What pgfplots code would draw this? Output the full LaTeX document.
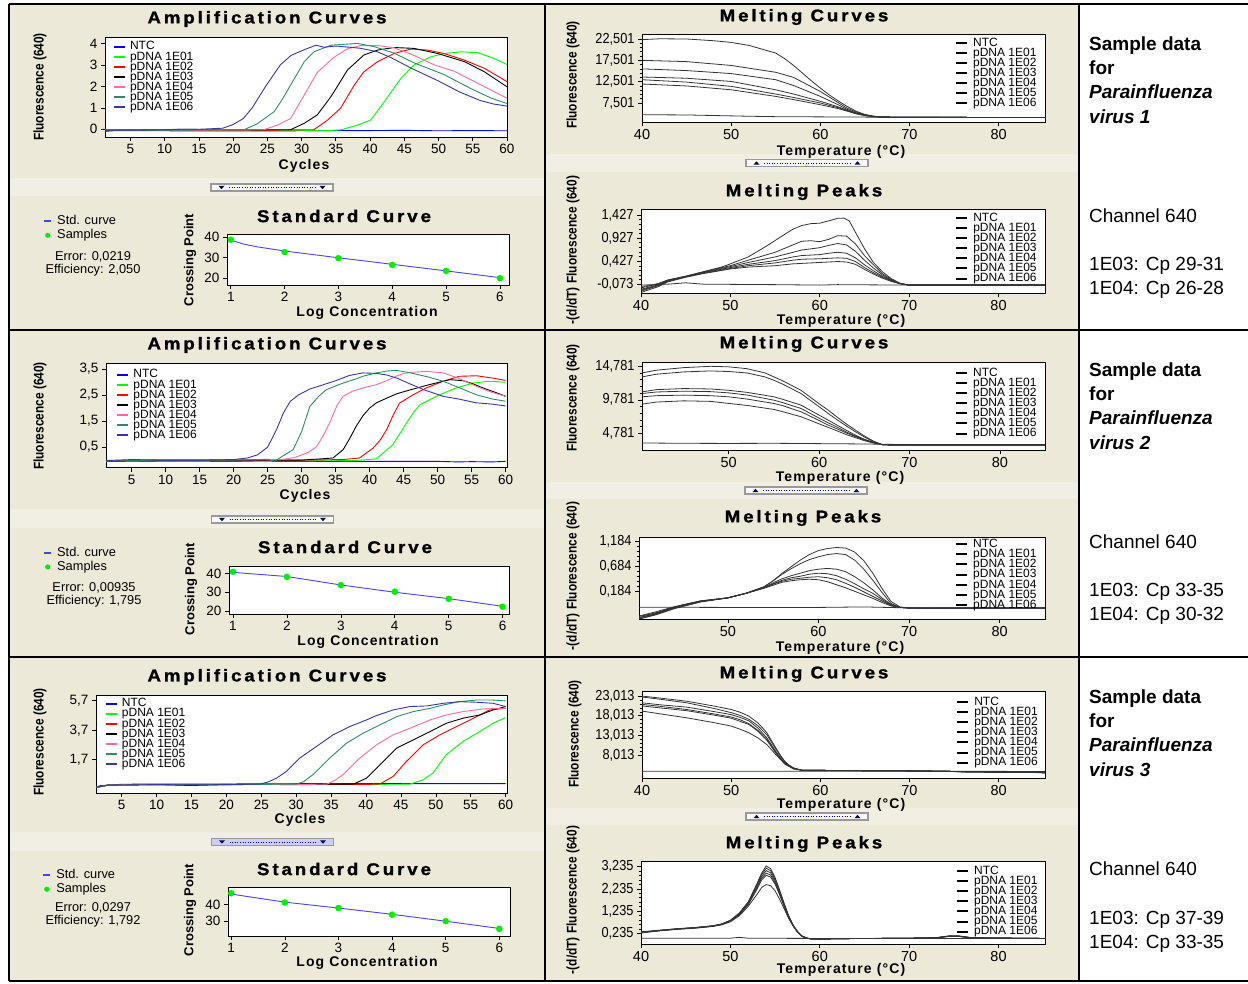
\documentclass[border=0pt]{standalone}
\usepackage{pgfplots}
\pgfplotsset{compat=1.18}
\usepackage{fontspec}
\setmainfont{Liberation Sans}
\newfontfamily\ttlfam[LetterSpace=17,FakeStretch=1.1,FakeBold=1.2]{Liberation Sans}
\newfontfamily\lblfam[LetterSpace=8]{Liberation Sans}
\newfontfamily\narfam[FakeStretch=0.85]{Liberation Sans}
\newfontfamily\ytkfam[FakeStretch=0.88]{Liberation Sans}
\newcommand\ttlfont{\ttlfam\bfseries\fontsize{17}{20}\selectfont}
\newcommand\lblfont{\lblfam\bfseries\fontsize{14}{16}\selectfont}
\newcommand\ylblfont{\narfam\bfseries\fontsize{14}{16}\selectfont}
\newcommand\cpfont{\bfseries\fontsize{13}{15}\selectfont}
\newcommand\tkfont{\fontsize{13.5}{15}\selectfont}
\newcommand\mtkfont{\fontsize{14.5}{16}\selectfont}
\newcommand\ytkfont{\ytkfam\fontsize{14.5}{16}\selectfont}
\newcommand\legfont{\fontsize{12}{12}\selectfont}
\newcommand\smfont{\fontsize{12.8}{14}\selectfont}
\newcommand\rfont{\fontsize{19}{22}\selectfont}
\definecolor{beige}{HTML}{ECE9D8}
\definecolor{band}{HTML}{F1EFE3}
\definecolor{cNTC}{HTML}{0000FF}
\definecolor{c01}{HTML}{00FF00}
\definecolor{c02}{HTML}{FF0000}
\definecolor{c03}{HTML}{000000}
\definecolor{c04}{HTML}{FF6C9C}
\definecolor{c05}{HTML}{2E8B6E}
\definecolor{c06}{HTML}{38389A}
\definecolor{stdblue}{HTML}{4444FF}
\definecolor{samp}{HTML}{00EE00}
\pgfplotsset{
 panel/.style={scale only axis, anchor=north west, axis background/.style={fill=white},
   axis line style={line width=0.8pt}, tick align=outside, tick pos=left,
   major tick length=4pt, minor tick length=2.5pt, every tick/.style={black,line width=0.6pt},
   tick label style={font=\tkfont}, /pgf/number format/assume math mode=true},
 amp/.style={panel, xtick={5,10,...,60}, every axis plot/.append style={line width=0.9pt},
   legend cell align=left,
   legend style={draw=none, fill=none, anchor=north west, font=\legfont,
     nodes={inner sep=0pt, text height=8.4pt, text depth=1.7pt}, row sep=0pt, column sep=4pt},
   legend image code/.code={\draw[##1,line width=2pt] (0pt,0pt) -- (11pt,0pt);}},
 melt/.style={panel, xtick={40,50,...,80}, xticklabel style={font=\mtkfont},
   yticklabel style={font=\ytkfont}, minor y tick num=4,
   legend cell align=left,
   legend style={draw=none, fill=none, anchor=north west, font=\legfont,
     nodes={inner sep=0pt, text height=8.4pt, text depth=1.7pt}, row sep=0pt, column sep=5pt},
   legend image code/.code={\draw[black,line width=2pt] (0pt,0pt) -- (11pt,0pt);}},
 mc/.style={black!80, line width=0.8pt},
 std/.style={panel, xtick={1,2,3,4,5,6}, legend cell align=left,
   legend style={draw=none, fill=none, anchor=north west, font=\smfont,
     nodes={inner sep=0pt, text height=9.5pt, text depth=2.5pt}, row sep=2pt, column sep=5pt}},
 stdline/.style={stdblue, line width=0.9pt,
   legend image code/.code={\draw[stdblue,line width=2pt] (0pt,0pt) -- (7pt,0pt);}},
 stdpts/.style={only marks, mark=*, mark size=3pt, color=samp,
   legend image code/.code={\fill[samp] (3.5pt,0pt) circle (2.3pt); \path (0pt,0pt) (7pt,0pt);}},
}
\newcommand{\widget}[4]{%
 \begin{scope}[shift={(#1pt,-#2pt)}]
 \fill[#3] (-61pt,-3.5pt) rectangle (61pt,3.5pt);
 \draw[gray!80, line width=1.2pt] (-61pt,-3.5pt) rectangle (61pt,3.5pt);
 \draw[blue!70!black, dotted, line width=0.6pt] (-43pt,0pt) -- (43pt,0pt);
 \fill[blue!35!black] (-53.5pt,#4*1.6pt) -- (-47.5pt,#4*1.6pt) -- (-50.5pt,-#4*1.6pt) -- cycle;
 \fill[blue!35!black] (47.5pt,#4*1.6pt) -- (53.5pt,#4*1.6pt) -- (50.5pt,-#4*1.6pt) -- cycle;
 \end{scope}}
\begin{document}
\begin{tikzpicture}
\path[use as bounding box] (0pt,0pt) rectangle (1248pt,-983pt);
\fill[white] (0pt,0pt) rectangle (1248pt,-983pt);
\fill[beige] (9pt,-4pt) rectangle (1079pt,-981pt);
\fill[band] (9pt,-178pt) rectangle (545pt,-196pt);
\fill[band] (9pt,-509pt) rectangle (545pt,-528pt);
\fill[band] (9pt,-832pt) rectangle (545pt,-851pt);
\fill[band] (545pt,-154pt) rectangle (1079pt,-172pt);
\fill[band] (545pt,-482pt) rectangle (1079pt,-499pt);
\fill[band] (545pt,-808pt) rectangle (1079pt,-825pt);

% ================= ROW 1 =================
\begin{axis}[amp, at={(105pt,-37pt)}, width=402pt, height=100pt,
  xmin=1.3, xmax=60, ymin=-0.36, ymax=4.3, ytick={0,1,2,3,4},
  legend style={at={(0.012,0.977)}}]
\addplot[cNTC] coordinates {(1,-0.1)(3,-0.06)(10,-0.07)(20,-0.08)(30,-0.07)(40,-0.06)(45,-0.05)(50,-0.07)(55,-0.06)(60,-0.07)};
\addlegendentry{NTC}
\addplot[c01] coordinates {(1,-0.04)(10,-0.03)(20,-0.04)(30,-0.05)(33,-0.07)(35.7,-0.03)(38.2,0.2)(40.1,0.43)(42.1,1.29)(44.5,2.37)(46.4,2.99)(48.9,3.38)(50.8,3.53)(53.3,3.61)(55.7,3.57)(58.1,3.3)(60,3.02)};
\addlegendentry{pDNA 1E01}
\addplot[c02] coordinates {(1,-0.03)(10,-0.02)(20,-0.03)(25,-0.04)(31.8,-0.02)(33.8,0.43)(35.7,0.98)(37.7,2.06)(39.1,2.68)(41.1,3.15)(43.5,3.53)(46,3.74)(48.4,3.69)(50.8,3.53)(53.8,3.22)(56.7,2.84)(60,2.22)};
\addlegendentry{pDNA 1E02}
\addplot[c03] coordinates {(1,-0.03)(10,-0.02)(13,0.0)(20,-0.03)(28.4,-0.02)(30.4,0.28)(32.3,0.67)(34.3,1.52)(36.7,2.76)(39.1,3.46)(41.1,3.69)(43.5,3.81)(46.4,3.77)(49.9,3.53)(53.8,3.15)(56.7,2.68)(60,1.98)};
\addlegendentry{pDNA 1E03}
\addplot[c04] coordinates {(1,-0.03)(10,-0.02)(20,-0.03)(24.5,-0.02)(26.5,0.2)(28.4,0.5)(30.4,1.6)(32.3,2.65)(34.7,3.35)(36.7,3.75)(38.6,3.9)(41.1,3.9)(43.5,3.8)(46,3.5)(49.4,3.0)(52.3,2.7)(55.7,2.15)(58.1,1.75)(60,1.45)};
\addlegendentry{pDNA 1E04}
\addplot[c05] coordinates {(1,-0.03)(15,-0.02)(21.6,-0.02)(23.5,0.25)(26,0.82)(27.2,1.4)(28.4,2.06)(30.4,3.15)(31.8,3.61)(34.3,3.92)(38.2,4.0)(40.6,3.85)(43.5,3.55)(46.4,3.1)(50.8,2.55)(54.7,1.9)(57.7,1.45)(60,1.2)};
\addlegendentry{pDNA 1E05}
\addplot[c06] coordinates {(1,-0.05)(10,-0.02)(12,0.0)(15,0.0)(18.5,0.05)(20,0.22)(21.5,0.5)(22.8,1.0)(24.75,2.0)(26.9,3.0)(28.5,3.45)(30.5,3.72)(32.1,3.92)(33.3,3.82)(35,3.88)(38.5,3.78)(41,3.62)(43,3.35)(46,2.85)(50,2.25)(53,1.75)(56,1.35)(58,1.18)(60,1.08)};
\addlegendentry{pDNA 1E06}
\end{axis}

\begin{axis}[std, at={(227pt,-234pt)}, width=282pt, height=51pt,
  xmin=0.93, xmax=6.17, ymin=16.7, ymax=41.6, ytick={20,30,40},
  legend style={at={(-0.663,1.41)}}]
\addplot[stdline] coordinates {(1,38.6)(1.25,36.6)(1.5,35.3)(2,33.3)(3,30.0)(4,26.8)(5,23.6)(6,20.3)};
\addlegendentry{Std. curve}
\addplot[stdpts] coordinates {(1,38.8)(2,32.8)(3,29.8)(4,26.5)(5,23.6)(6,20.0)};
\addlegendentry{Samples}
\end{axis}

\begin{axis}[melt, at={(642pt,-34pt)}, width=403pt, height=88pt,
  xmin=40, xmax=85.2, ymin=3.05, ymax=23.67,
  ytick={7.501,12.501,17.501,22.501}, yticklabels={{7,501},{12,501},{17,501},{22,501}},
  legend style={at={(0.769,0.984)}}]
\addplot[mc] coordinates {(40,4.76)(45,4.7)(52,4.4)(55,4.3)(60,4.25)(65,4.2)(70,4.15)(85.2,4.1)};
\addlegendentry{NTC}
\addplot[mc] coordinates {(40,22.35)(42,22.55)(45,22.5)(48,22.1)(50,21.7)(52,21.0)(54,19.8)(55,19.2)(56,17.9)(57,16.3)(58,14.5)(59,12.7)(60,11.0)(61,9.4)(62,8.0)(63,6.7)(64,5.6)(65,4.8)(66,4.4)(67,4.2)(70,4.15)(75,4.12)(80,4.1)(85.2,4.1)};
\addlegendentry{pDNA 1E01}
\addplot[mc] coordinates {(40,17.5)(45,17.2)(50,16.3)(55,14.7)(57,13.5)(60,10.2)(62,7.6)(63,6.3)(64,5.4)(65,4.76)(66,4.4)(67,4.2)(70,4.15)(85.2,4.1)};
\addlegendentry{pDNA 1E02}
\addplot[mc] coordinates {(40,15.5)(45,15.1)(50,14.4)(55,12.96)(57,11.6)(60,9.05)(62,7.1)(63,6.0)(64,5.2)(65,4.7)(66,4.35)(67,4.2)(70,4.15)(85.2,4.1)};
\addlegendentry{pDNA 1E03}
\addplot[mc] coordinates {(40,13.6)(45,13.3)(50,12.56)(55,10.6)(57,9.6)(60,7.9)(62,6.6)(63,5.8)(64,5.1)(65,4.6)(66,4.3)(67,4.2)(70,4.15)(85.2,4.1)};
\addlegendentry{pDNA 1E04}
\addplot[mc] coordinates {(40,12.96)(45,12.4)(50,11.4)(55,9.6)(57,8.8)(60,7.5)(62,6.4)(63,5.7)(64,5.0)(65,4.6)(66,4.3)(67,4.2)(70,4.15)(85.2,4.1)};
\addlegendentry{pDNA 1E05}
\addplot[mc] coordinates {(40,11.95)(45,11.5)(50,10.6)(55,9.05)(57,8.3)(60,7.1)(62,6.2)(63,5.6)(64,5.0)(65,4.55)(66,4.3)(67,4.2)(70,4.15)(85.2,4.1)};
\addlegendentry{pDNA 1E06}
\end{axis}

\begin{axis}[melt, at={(641pt,-209pt)}, width=404pt, height=84pt,
  xmin=40, xmax=85.2, ymin=-0.261, ymax=1.557,
  ytick={-0.073,0.427,0.927,1.427}, yticklabels={{-0,073},{0,427},{0,927},{1,427}},
  legend style={at={(0.77,0.98)}}]
\addplot[mc] coordinates {(40,-0.09)(43,-0.07)(45,-0.04)(47,-0.07)(55,-0.08)(60,-0.09)(62,-0.08)(70,-0.09)(85.2,-0.09)};
\addlegendentry{NTC}
\addplot[mc] coordinates {(40,-0.12)(41,-0.1)(42,-0.05)(43,0.02)(45,0.1)(47,0.2)(49,0.3)(50,0.37)(52,0.52)(54,0.75)(56,1.0)(57,1.12)(58,1.2)(59,1.24)(60,1.25)(61,1.3)(62,1.355)(62.7,1.36)(63.3,1.3)(64,1.05)(65,0.7)(66,0.4)(67,0.2)(68,0.05)(69,-0.05)(70,-0.09)(75,-0.09)(80,-0.08)(82,-0.09)(85.2,-0.09)};
\addlegendentry{pDNA 1E01}
\addplot[mc] coordinates {(40,-0.15)(42,-0.06)(43,0.02)(45,0.1)(47,0.2)(50,0.33)(52,0.45)(55,0.62)(57,0.78)(58,0.86)(59,0.87)(60,0.85)(61,0.9)(62,0.98)(63,0.97)(64,0.8)(65,0.55)(66,0.35)(67,0.16)(68,0.03)(69,-0.06)(70,-0.09)(85.2,-0.09)};
\addlegendentry{pDNA 1E02}
\addplot[mc] coordinates {(40,-0.18)(42,-0.08)(43,0.01)(45,0.1)(47,0.19)(50,0.31)(52,0.4)(55,0.52)(57,0.62)(58,0.67)(60,0.72)(61,0.77)(62,0.81)(63,0.78)(64,0.64)(65,0.45)(66,0.28)(67,0.13)(68,0.02)(69,-0.06)(70,-0.09)(85.2,-0.09)};
\addlegendentry{pDNA 1E03}
\addplot[mc] coordinates {(40,-0.2)(42,-0.09)(43,0.0)(45,0.09)(47,0.18)(50,0.29)(52,0.36)(55,0.44)(57,0.52)(58,0.55)(60,0.57)(61,0.6)(62,0.62)(63,0.6)(64,0.5)(65,0.35)(66,0.22)(67,0.1)(68,0.01)(69,-0.06)(70,-0.09)(85.2,-0.09)};
\addlegendentry{pDNA 1E04}
\addplot[mc] coordinates {(40,-0.22)(42,-0.1)(43,-0.01)(45,0.09)(47,0.17)(50,0.27)(52,0.33)(55,0.39)(57,0.45)(58,0.47)(60,0.48)(61,0.49)(62,0.5)(63,0.49)(64,0.42)(65,0.29)(66,0.18)(67,0.08)(68,0.0)(69,-0.06)(70,-0.09)(85.2,-0.09)};
\addlegendentry{pDNA 1E05}
\addplot[mc] coordinates {(40,-0.25)(42,-0.12)(43,-0.02)(45,0.08)(47,0.16)(50,0.26)(52,0.3)(55,0.33)(57,0.37)(58,0.38)(60,0.4)(61,0.41)(62,0.42)(63,0.41)(64,0.36)(65,0.25)(66,0.15)(67,0.06)(68,-0.01)(69,-0.06)(70,-0.09)(85.2,-0.09)};
\addlegendentry{pDNA 1E06}
\end{axis}

% ================= ROW 2 =================
\begin{axis}[amp, at={(106pt,-363pt)}, width=401pt, height=104.5pt,
  xmin=1.22, xmax=60.2, ymin=-0.285, ymax=3.73,
  ytick={0.5,1.5,2.5,3.5}, yticklabels={{0,5},{1,5},{2,5},{3,5}},
  legend style={at={(0.018,0.958)}}]
\addplot[cNTC] coordinates {(1,-0.05)(10,-0.04)(20,-0.05)(30,-0.05)(40,-0.05)(50,-0.05)(53,-0.07)(55,-0.06)(58,-0.07)(60,-0.05)};
\addlegendentry{NTC}
\addplot[c01] coordinates {(1,-0.03)(10,-0.03)(20,-0.03)(25,-0.06)(26,-0.03)(30,-0.03)(38,-0.02)(41,0.05)(43.4,0.59)(44.4,1.0)(45.4,1.42)(46.5,1.85)(47.4,2.13)(50.3,2.51)(52.7,2.77)(55.2,2.96)(57.6,3.03)(60,2.99)};
\addlegendentry{pDNA 1E01}
\addplot[c02] coordinates {(1,-0.02)(10,0.0)(20,0.0)(30,0.0)(36,0.02)(38.5,0.08)(40.5,0.46)(41.5,0.75)(42.5,1.17)(43.5,1.75)(44.4,2.19)(46.4,2.51)(48.3,2.77)(50.8,3.03)(53.2,3.22)(55.7,3.24)(58.1,3.15)(60,3.06)};
\addlegendentry{pDNA 1E02}
\addplot[c03] coordinates {(1,-0.02)(8,-0.03)(10,0.0)(20,0.0)(30,0.0)(33,0.05)(34.6,0.08)(36.1,0.4)(37,0.8)(38,1.29)(39,1.7)(40,2.0)(41,2.2)(42.5,2.38)(44,2.55)(46,2.7)(48.8,2.9)(51.8,3.09)(53.7,3.05)(55,2.95)(56.7,2.77)(58.5,2.6)(60,2.45)};
\addlegendentry{pDNA 1E03}
\addplot[c04] coordinates {(1,-0.02)(10,0.02)(20,0.02)(27,0.02)(29,0.1)(31,0.3)(32.2,0.52)(33.2,0.95)(34.1,1.42)(35.2,2.1)(36.1,2.45)(37.5,2.65)(39,2.77)(41,2.9)(42.5,3.05)(43.9,3.22)(45,3.33)(46,3.37)(48.3,3.41)(50.8,3.35)(53,3.15)(55.7,2.83)(58,2.6)(60,2.45)};
\addlegendentry{pDNA 1E04}
\addplot[c05] coordinates {(1,-0.03)(10,0.0)(20,0.0)(25,0.03)(26,-0.05)(27,0.12)(28.75,0.4)(30,1.1)(31.2,2.06)(32.5,2.45)(33.6,2.7)(35,2.85)(36.1,2.96)(38,3.12)(39,3.22)(41,3.35)(42.5,3.42)(43.9,3.45)(46,3.35)(48.5,3.2)(50.8,3.03)(53,2.8)(55.7,2.51)(58,2.35)(60,2.26)};
\addlegendentry{pDNA 1E05}
\addplot[c06] coordinates {(1,-0.02)(5,0.02)(10,0.0)(15,0.0)(20,0.02)(22,0.08)(23.5,0.2)(25,0.5)(26.3,1.17)(27.3,1.8)(28.3,2.25)(29.5,2.5)(31.2,2.73)(33,2.88)(35,3.05)(37,3.25)(39,3.35)(41,3.33)(42.5,3.27)(44,3.15)(46,2.92)(48,2.7)(50.8,2.45)(53,2.35)(55.7,2.2)(58,2.15)(60,2.08)};
\addlegendentry{pDNA 1E06}
\end{axis}

\begin{axis}[std, at={(229pt,-566pt)}, width=280pt, height=48pt,
  xmin=0.926, xmax=6.12, ymin=18.4, ymax=44, ytick={20,30,40},
  legend style={at={(-0.675,1.444)}}]
\addplot[stdline] coordinates {(1,40.6)(2,38.4)(3,33.9)(4,30.0)(5,26.6)(6,22.5)};
\addlegendentry{Std. curve}
\addplot[stdpts] coordinates {(1,40.9)(2,38.2)(3,33.8)(4,30.3)(5,26.5)(6,22.3)};
\addlegendentry{Samples}
\end{axis}

\begin{axis}[melt, at={(642pt,-362pt)}, width=403pt, height=88pt,
  xmin=40.4, xmax=85, ymin=2.3, ymax=15.42,
  ytick={4.781,9.781,14.781}, yticklabels={{4,781},{9,781},{14,781}},
  legend style={at={(0.769,0.958)}}]
\addplot[mc] coordinates {(40.4,3.35)(45,3.3)(50,3.28)(55,3.3)(60,3.25)(65,3.2)(70,3.1)(85,3.1)};
\addlegendentry{NTC}
\addplot[mc] coordinates {(40.4,13.79)(42,14.2)(45,14.58)(48,14.78)(50,14.7)(52,14.43)(54,13.8)(55,13.2)(56,12.6)(58,11.2)(60,9.2)(61,8.25)(62,7.2)(63,6.2)(64,5.28)(65,4.4)(66,3.64)(67,3.1)(68,3.05)(75,3.05)(85,3.05)};
\addlegendentry{pDNA 1E01}
\addplot[mc] coordinates {(40.4,13.2)(42,13.6)(45,13.94)(48,14.09)(50,14.0)(52,13.79)(54,13.2)(55,12.7)(56,12.1)(58,10.72)(60,8.75)(61,7.75)(62,6.8)(63,5.9)(64,5.03)(65,4.25)(66,3.54)(67,3.1)(68,3.05)(85,3.05)};
\addlegendentry{pDNA 1E02}
\addplot[mc] coordinates {(40.4,10.97)(42,11.3)(45,11.46)(48,11.4)(50,11.2)(52,10.9)(55,10.23)(56,9.85)(58,8.99)(60,7.5)(61,6.76)(62,6.0)(63,5.25)(64,4.53)(65,3.9)(66,3.45)(67,3.1)(68,3.05)(85,3.05)};
\addlegendentry{pDNA 1E03}
\addplot[mc] coordinates {(40.4,10.72)(42,10.95)(45,11.07)(48,11.0)(50,10.82)(52,10.5)(55,9.73)(56,9.35)(58,8.49)(60,7.05)(61,6.36)(62,5.7)(63,5.0)(64,4.4)(65,3.85)(66,3.42)(67,3.1)(68,3.05)(85,3.05)};
\addlegendentry{pDNA 1E04}
\addplot[mc] coordinates {(40.4,10.23)(42,10.4)(45,10.48)(48,10.4)(50,10.23)(52,9.9)(55,9.24)(56,8.9)(58,8.0)(60,6.7)(61,6.02)(62,5.45)(63,4.85)(64,4.3)(65,3.8)(66,3.4)(67,3.1)(68,3.05)(85,3.05)};
\addlegendentry{pDNA 1E05}
\addplot[mc] coordinates {(40.4,9.14)(42,9.45)(45,9.63)(48,9.55)(50,9.24)(52,8.95)(55,8.35)(56,8.0)(58,7.26)(60,6.2)(61,5.67)(62,5.15)(63,4.6)(64,4.14)(65,3.7)(66,3.35)(67,3.1)(68,3.05)(85,3.05)};
\addlegendentry{pDNA 1E06}
\end{axis}

\begin{axis}[melt, at={(639pt,-537pt)}, width=406pt, height=82pt,
  xmin=40.2, xmax=85, ymin=-0.36, ymax=1.269,
  ytick={0.184,0.684,1.184}, yticklabels={{0,184},{0,684},{1,184}},
  legend style={at={(0.771,1.0)}}]
\addplot[mc] coordinates {(40.2,-0.125)(50,-0.13)(60,-0.13)(65,-0.12)(70,-0.14)(85,-0.14)};
\addlegendentry{NTC}
\addplot[mc] coordinates {(40.2,-0.31)(42,-0.24)(44,-0.13)(45,-0.08)(47,0.0)(50,0.06)(52,0.15)(54,0.28)(55,0.4)(56,0.55)(57,0.68)(58,0.81)(59,0.92)(60,1.0)(61,1.04)(62,1.06)(63,1.05)(64,0.97)(65,0.8)(66,0.55)(67,0.25)(68,-0.01)(69,-0.12)(70,-0.14)(72,-0.15)(85,-0.14)};
\addlegendentry{pDNA 1E01}
\addplot[mc] coordinates {(40.2,-0.3)(42,-0.22)(44,-0.12)(47,0.0)(50,0.06)(52,0.15)(54,0.28)(55,0.4)(56,0.53)(57,0.64)(58,0.74)(59,0.82)(60,0.875)(61,0.92)(62,0.94)(63,0.92)(64,0.81)(65,0.63)(66,0.41)(67,0.17)(68,-0.05)(69,-0.13)(70,-0.14)(85,-0.14)};
\addlegendentry{pDNA 1E02}
\addplot[mc] coordinates {(40.2,-0.33)(42,-0.25)(44,-0.13)(47,-0.01)(50,0.06)(52,0.15)(54,0.27)(55,0.36)(56,0.44)(57,0.5)(58,0.55)(59,0.6)(60,0.63)(61,0.645)(62,0.63)(63,0.58)(64,0.48)(65,0.36)(66,0.22)(67,0.06)(68,-0.07)(69,-0.13)(70,-0.14)(85,-0.14)};
\addlegendentry{pDNA 1E03}
\addplot[mc] coordinates {(40.2,-0.34)(42,-0.26)(44,-0.14)(47,-0.01)(50,0.06)(52,0.15)(54,0.26)(55,0.34)(56,0.41)(57,0.46)(58,0.49)(59,0.53)(60,0.55)(61,0.54)(62,0.5)(63,0.43)(64,0.34)(65,0.24)(66,0.15)(67,0.03)(68,-0.08)(69,-0.13)(70,-0.14)(85,-0.14)};
\addlegendentry{pDNA 1E04}
\addplot[mc] coordinates {(40.2,-0.36)(42,-0.27)(44,-0.15)(47,-0.02)(50,0.06)(52,0.15)(54,0.26)(55,0.33)(56,0.39)(57,0.43)(58,0.45)(59,0.47)(60,0.48)(61,0.46)(62,0.42)(63,0.35)(64,0.27)(65,0.18)(66,0.09)(67,0.0)(68,-0.09)(69,-0.13)(70,-0.14)(85,-0.14)};
\addlegendentry{pDNA 1E05}
\addplot[mc] coordinates {(40.2,-0.36)(42,-0.28)(44,-0.16)(47,-0.02)(50,0.06)(52,0.15)(54,0.25)(55,0.31)(56,0.37)(57,0.4)(58,0.42)(59,0.43)(60,0.42)(61,0.38)(62,0.32)(63,0.26)(64,0.19)(65,0.12)(66,0.05)(67,-0.03)(68,-0.1)(69,-0.13)(70,-0.14)(85,-0.14)};
\addlegendentry{pDNA 1E06}
\end{axis}

% ================= ROW 3 =================
\begin{axis}[amp, at={(96pt,-695pt)}, width=411pt, height=98pt,
  xmin=1.32, xmax=60.2, ymin=-0.55, ymax=6.08,
  ytick={1.7,3.7,5.7}, yticklabels={{1,7},{3,7},{5,7}},
  legend style={at={(0.014,0.987)}}]
\addplot[cNTC] coordinates {(1,-0.2)(2,-0.05)(5,0.04)(10,0.06)(20,0.06)(30,0.08)(40,0.08)(50,0.08)(60,0.08)};
\addlegendentry{NTC}
\addplot[c01] coordinates {(1,-0.2)(3,-0.02)(10,0.02)(20,0.02)(30,0.03)(40,0.03)(46.3,0.05)(48.2,0.35)(49.6,0.8)(51.5,2.04)(53.9,2.94)(56.3,3.61)(58.2,4.17)(60,4.55)};
\addlegendentry{pDNA 1E01}
\addplot[c02] coordinates {(1,-0.2)(3,-0.02)(10,0.02)(20,0.03)(30,0.02)(40,0.03)(42,0.06)(43.9,0.58)(45.8,1.59)(48.2,2.71)(50.6,3.39)(53,3.95)(55.4,4.51)(57.7,5.07)(60,5.18)};
\addlegendentry{pDNA 1E02}
\addplot[c03] coordinates {(1,-0.2)(3,-0.02)(10,0.02)(15,-0.04)(20,0.02)(30,0.03)(38.2,0.05)(40.1,0.46)(42,1.36)(44.4,2.49)(46.8,3.05)(49.2,3.61)(51.5,4.17)(53.9,4.51)(56.3,4.73)(58.2,5.07)(60,5.3)};
\addlegendentry{pDNA 1E03}
\addplot[c04] coordinates {(1,-0.2)(3,-0.02)(10,0.03)(20,0.03)(30,0.02)(34.4,0.05)(35.5,0.3)(36.7,0.69)(39.1,1.81)(41.5,2.71)(43.9,3.39)(46.3,3.83)(49.2,4.4)(51.5,4.73)(53.9,4.96)(56.8,5.14)(60,5.18)};
\addlegendentry{pDNA 1E04}
\addplot[c05] coordinates {(1,-0.2)(3,-0.02)(10,0.02)(20,0.02)(30,0.05)(31,0.2)(32.4,0.69)(34.8,1.81)(37.2,2.82)(39.6,3.5)(42,4.06)(44.4,4.62)(46.8,4.96)(49.2,5.18)(51.1,5.41)(53.4,5.63)(55.8,5.74)(58.2,5.74)(60,5.68)};
\addlegendentry{pDNA 1E05}
\addplot[c06] coordinates {(1,-0.2)(3,-0.02)(10,0.02)(15,0.0)(20,0.02)(24.8,0.05)(26,0.2)(27.2,0.46)(28.6,0.91)(30.5,1.81)(32.9,2.6)(35.3,3.39)(37.7,3.95)(40.1,4.4)(41.5,4.69)(43.9,5.07)(46.3,5.3)(48.7,5.34)(51.1,5.52)(53.4,5.63)(55.8,5.59)(58.2,5.52)(60,5.3)};
\addlegendentry{pDNA 1E06}
\end{axis}

\begin{axis}[std, at={(228pt,-887pt)}, width=282pt, height=49pt,
  xmin=0.94, xmax=6.2, ymin=21, ymax=50.8, ytick={30,40},
  legend style={at={(-0.67,1.408)}}]
\addplot[stdline] coordinates {(1,46.5)(2,41.6)(3,38.0)(4,34.2)(5,30.0)(6,25.6)};
\addlegendentry{Std. curve}
\addplot[stdpts] coordinates {(1,47.0)(2,41.4)(3,38.0)(4,34.0)(5,30.0)(6,25.4)};
\addlegendentry{Samples}
\end{axis}

\begin{axis}[melt, at={(642pt,-691pt)}, width=403pt, height=87pt,
  xmin=40, xmax=85.2, ymin=2.24, ymax=24.28,
  ytick={8.013,13.013,18.013,23.013}, yticklabels={{8,013},{13,013},{18,013},{23,013}},
  legend style={at={(0.772,0.957)}}]
\addplot[mc] coordinates {(40,3.95)(50,3.95)(60,3.95)(70,3.95)(85.2,3.9)};
\addlegendentry{NTC}
\addplot[mc] coordinates {(40,23.0)(42,22.5)(45,21.7)(48,20.5)(50,19.6)(51,18.9)(52,17.9)(53,16.2)(53.5,15.0)(54,13.7)(54.5,11.8)(55,9.9)(55.5,8.1)(56,6.5)(56.5,5.5)(57,4.8)(57.5,4.4)(58,4.2)(65,4.1)(70,4.05)(74,4.0)(76,3.7)(85.2,3.6)};
\addlegendentry{pDNA 1E01}
\addplot[mc] coordinates {(40,22.76)(42,22.2)(45,21.3)(48,19.9)(50,18.8)(51,18.1)(52,17.1)(53,15.5)(54,13.2)(54.5,11.4)(55,9.6)(55.5,7.9)(56,6.4)(56.5,5.4)(57,4.75)(58,4.2)(70,4.05)(85.2,3.6)};
\addlegendentry{pDNA 1E02}
\addplot[mc] coordinates {(40,21.3)(42,20.8)(45,20.2)(48,19.1)(50,18.3)(51,17.6)(52,16.7)(53,14.9)(54,12.4)(55,9.0)(55.5,7.4)(56,6.1)(57,4.7)(58,4.2)(70,4.05)(85.2,3.6)};
\addlegendentry{pDNA 1E03}
\addplot[mc] coordinates {(40,20.9)(42,20.4)(45,19.6)(48,18.5)(50,17.7)(51,17.0)(52,16.0)(53,14.3)(54,12.0)(55,8.8)(56,6.0)(57,4.65)(58,4.2)(70,4.05)(85.2,3.6)};
\addlegendentry{pDNA 1E04}
\addplot[mc] coordinates {(40,20.5)(42,20.0)(45,19.3)(48,18.2)(50,17.4)(52,15.8)(53,14.1)(54,11.8)(55,8.6)(56,5.9)(57,4.6)(58,4.2)(70,4.05)(85.2,3.6)};
\addlegendentry{pDNA 1E05}
\addplot[mc] coordinates {(40,19.2)(42,18.5)(45,17.5)(48,16.3)(50,15.4)(51,14.6)(52,13.7)(53,12.4)(54,10.7)(55,8.2)(56,5.8)(57,4.5)(58,4.2)(70,4.05)(85.2,3.6)};
\addlegendentry{pDNA 1E06}
\end{axis}

\begin{axis}[melt, at={(641pt,-861pt)}, width=404pt, height=83pt,
  xmin=40, xmax=85.2, ymin=-0.251, ymax=3.494,
  ytick={0.235,1.235,2.235,3.235}, yticklabels={{0,235},{1,235},{2,235},{3,235}},
  legend style={at={(0.772,0.967)}}]
\addplot[mc] coordinates {(40,0.01)(50,0.01)(51,0.05)(52,0.01)(60,0.0)(70,0.0)(85.2,0.0)};
\addlegendentry{NTC}
\addplot[mc] coordinates {(40,0.3)(42,0.37)(44,0.44)(46,0.49)(48,0.57)(49,0.65)(50,0.82)(51,1.15)(52,1.65)(53,2.5)(53.5,2.95)(54,3.27)(54.5,3.15)(55,2.75)(55.5,2.2)(56,1.6)(56.5,1.05)(57,0.62)(57.5,0.32)(58,0.12)(58.5,0.02)(59,-0.02)(60,-0.03)(62,-0.01)(65,0.0)(70,0.01)(73,0.03)(74.5,0.12)(75.5,0.12)(77,0.03)(80,0.0)(85.2,0.0)};
\addlegendentry{pDNA 1E01}
\addplot[mc] coordinates {(40,0.29)(42,0.36)(44,0.43)(46,0.49)(48,0.57)(49,0.65)(50,0.81)(51,1.13)(52,1.62)(53,2.44)(53.5,2.88)(54,3.17)(54.5,3.06)(55,2.68)(55.5,2.15)(56,1.57)(56.5,1.03)(57,0.61)(57.5,0.31)(58,0.11)(58.5,0.02)(59,-0.02)(60,-0.03)(62,-0.01)(70,0.01)(73,0.03)(74.5,0.11)(75.5,0.11)(77,0.03)(85.2,0.0)};
\addlegendentry{pDNA 1E02}
\addplot[mc] coordinates {(40,0.28)(42,0.36)(44,0.43)(46,0.48)(48,0.56)(49,0.64)(50,0.8)(51,1.11)(52,1.58)(53,2.37)(53.5,2.8)(54,3.06)(54.5,2.96)(55,2.6)(55.5,2.09)(56,1.53)(56.5,1.0)(57,0.6)(57.5,0.3)(58,0.11)(58.5,0.02)(59,-0.02)(60,-0.03)(62,-0.01)(70,0.01)(73,0.03)(74.5,0.1)(75.5,0.1)(77,0.03)(85.2,0.0)};
\addlegendentry{pDNA 1E03}
\addplot[mc] coordinates {(40,0.27)(42,0.35)(44,0.42)(46,0.48)(48,0.56)(49,0.63)(50,0.79)(51,1.09)(52,1.55)(53,2.3)(53.5,2.72)(54,2.95)(54.5,2.86)(55,2.52)(55.5,2.03)(56,1.49)(56.5,0.98)(57,0.59)(57.5,0.3)(58,0.1)(58.5,0.02)(59,-0.02)(60,-0.03)(62,-0.01)(70,0.01)(73,0.03)(74.5,0.1)(75.5,0.1)(77,0.03)(85.2,0.0)};
\addlegendentry{pDNA 1E04}
\addplot[mc] coordinates {(40,0.26)(42,0.35)(44,0.42)(46,0.47)(48,0.55)(49,0.63)(50,0.78)(51,1.07)(52,1.52)(53,2.24)(53.5,2.64)(54,2.85)(54.5,2.77)(55,2.45)(55.5,1.98)(56,1.46)(56.5,0.96)(57,0.58)(57.5,0.29)(58,0.1)(58.5,0.02)(59,-0.02)(60,-0.03)(62,-0.01)(70,0.01)(73,0.03)(74.5,0.1)(75.5,0.1)(77,0.03)(85.2,0.0)};
\addlegendentry{pDNA 1E05}
\addplot[mc] coordinates {(40,0.25)(42,0.34)(44,0.41)(46,0.46)(48,0.54)(49,0.61)(50,0.75)(51,1.02)(52,1.45)(53,2.0)(53.5,2.3)(54,2.43)(54.5,2.38)(55,2.15)(55.5,1.78)(56,1.35)(56.5,0.92)(57,0.57)(57.5,0.29)(58,0.1)(58.5,0.02)(59,-0.02)(60,-0.03)(62,-0.01)(70,0.01)(73,0.03)(74.5,0.09)(75.5,0.09)(77,0.03)(85.2,0.0)};
\addlegendentry{pDNA 1E06}
\end{axis}

% ================= TEXT =================
\tikzset{ttl/.style={font=\ttlfont, inner sep=0pt}, lbl/.style={font=\lblfont, inner sep=0pt},
  ylb/.style={font=\ylblfont, rotate=90, inner sep=0pt}, cpl/.style={font=\cpfont, rotate=90, inner sep=0pt},
  sm/.style={font=\smfont, inner sep=0pt},
  rt/.style={font=\rfont, inner sep=0pt, anchor=base west}}
% row 1
\node[ttl] at (267pt,-19pt) {Amplification Curves};
\node[lbl] at (304pt,-166pt) {Cycles};
\node[ylb] at (40pt,-87pt) {Fluorescence (640)};
\node[ttl] at (344pt,-216pt) {Standard Curve};
\node[lbl] at (367pt,-313pt) {Log Concentration};
\node[cpl] at (190pt,-260pt) {Crossing Point};
\node[sm] at (93pt,-257pt) {Error: 0,0219};
\node[sm] at (93pt,-270pt) {Efficiency: 2,050};
\node[ttl] at (804pt,-17pt) {Melting Curves};
\node[lbl] at (841pt,-152pt) {Temperature (°C)};
\node[ylb] at (573pt,-75pt) {Fluorescence (640)};
\node[ttl] at (804pt,-192pt) {Melting Peaks};
\node[lbl] at (841pt,-321pt) {Temperature (°C)};
\node[ylb] at (573pt,-250pt) {-(d/dT) Fluorescence (640)};
% row 2
\node[ttl] at (267pt,-345pt) {Amplification Curves};
\node[lbl] at (305pt,-496pt) {Cycles};
\node[ylb] at (40pt,-416pt) {Fluorescence (640)};
\node[ttl] at (345pt,-547pt) {Standard Curve};
\node[lbl] at (368pt,-642pt) {Log Concentration};
\node[cpl] at (191pt,-589pt) {Crossing Point};
\node[sm] at (94pt,-588pt) {Error: 0,00935};
\node[sm] at (94pt,-601pt) {Efficiency: 1,795};
\node[ttl] at (804pt,-344pt) {Melting Curves};
\node[lbl] at (840pt,-478pt) {Temperature (°C)};
\node[ylb] at (573pt,-398pt) {Fluorescence (640)};
\node[ttl] at (803pt,-518pt) {Melting Peaks};
\node[lbl] at (840pt,-648pt) {Temperature (°C)};
\node[ylb] at (573pt,-576pt) {-(d/dT) Fluorescence (640)};
% row 3
\node[ttl] at (267pt,-677pt) {Amplification Curves};
\node[lbl] at (300pt,-820pt) {Cycles};
\node[ylb] at (40pt,-742pt) {Fluorescence (640)};
\node[ttl] at (344pt,-869pt) {Standard Curve};
\node[lbl] at (367pt,-963pt) {Log Concentration};
\node[cpl] at (190pt,-910pt) {Crossing Point};
\node[sm] at (93pt,-908pt) {Error: 0,0297};
\node[sm] at (93pt,-921pt) {Efficiency: 1,792};
\node[ttl] at (804pt,-674pt) {Melting Curves};
\node[lbl] at (841pt,-805pt) {Temperature (°C)};
\node[ylb] at (575pt,-734pt) {Fluorescence (640)};
\node[ttl] at (804pt,-844pt) {Melting Peaks};
\node[lbl] at (841pt,-970pt) {Temperature (°C)};
\node[ylb] at (573pt,-900pt) {-(d/dT) Fluorescence (640)};
% widgets
\widget{272}{187.5}{white!95!gray}{1}
\widget{807}{163}{white!95!gray}{-1}
\widget{272.5}{519.5}{white!95!gray}{1}
\widget{806}{490.5}{white!95!gray}{-1}
\widget{272.5}{842}{blue!20!white}{1}
\widget{807}{816.5}{white!95!gray}{-1}
% right column
\foreach \yy/\n in {0/1,326/2,653/3}{
 \begin{scope}[yshift=-\yy pt]
 \node[rt] at (1089pt,-50pt) {\bfseries Sample data};
 \node[rt] at (1089pt,-74pt) {\bfseries for};
 \node[rt] at (1089pt,-98pt) {\bfseries\itshape Parainfluenza};
 \node[rt] at (1089pt,-123pt) {\bfseries\itshape virus \n};
 \node[rt] at (1089pt,-222pt) {Channel 640};
 \end{scope}}
\node[rt] at (1089pt,-270pt) {1E03: Cp 29-31};
\node[rt] at (1089pt,-294pt) {1E04: Cp 26-28};
\node[rt] at (1089pt,-596pt) {1E03: Cp 33-35};
\node[rt] at (1089pt,-620pt) {1E04: Cp 30-32};
\node[rt] at (1089pt,-924pt) {1E03: Cp 37-39};
\node[rt] at (1089pt,-948pt) {1E04: Cp 33-35};
% borders
\draw[black, line width=2.5pt] (9pt,-4pt) -- (1248pt,-4pt);
\draw[black, line width=2.5pt] (9pt,-330pt) -- (1248pt,-330pt);
\draw[black, line width=2.5pt] (9pt,-657pt) -- (1248pt,-657pt);
\draw[black, line width=2.5pt] (9pt,-981pt) -- (1248pt,-981pt);
\draw[black, line width=2.5pt] (9pt,-4pt) -- (9pt,-981pt);
\draw[black, line width=2.5pt] (545pt,-4pt) -- (545pt,-981pt);
\draw[black, line width=2.5pt] (1079pt,-4pt) -- (1079pt,-981pt);
\end{tikzpicture}
\end{document}
